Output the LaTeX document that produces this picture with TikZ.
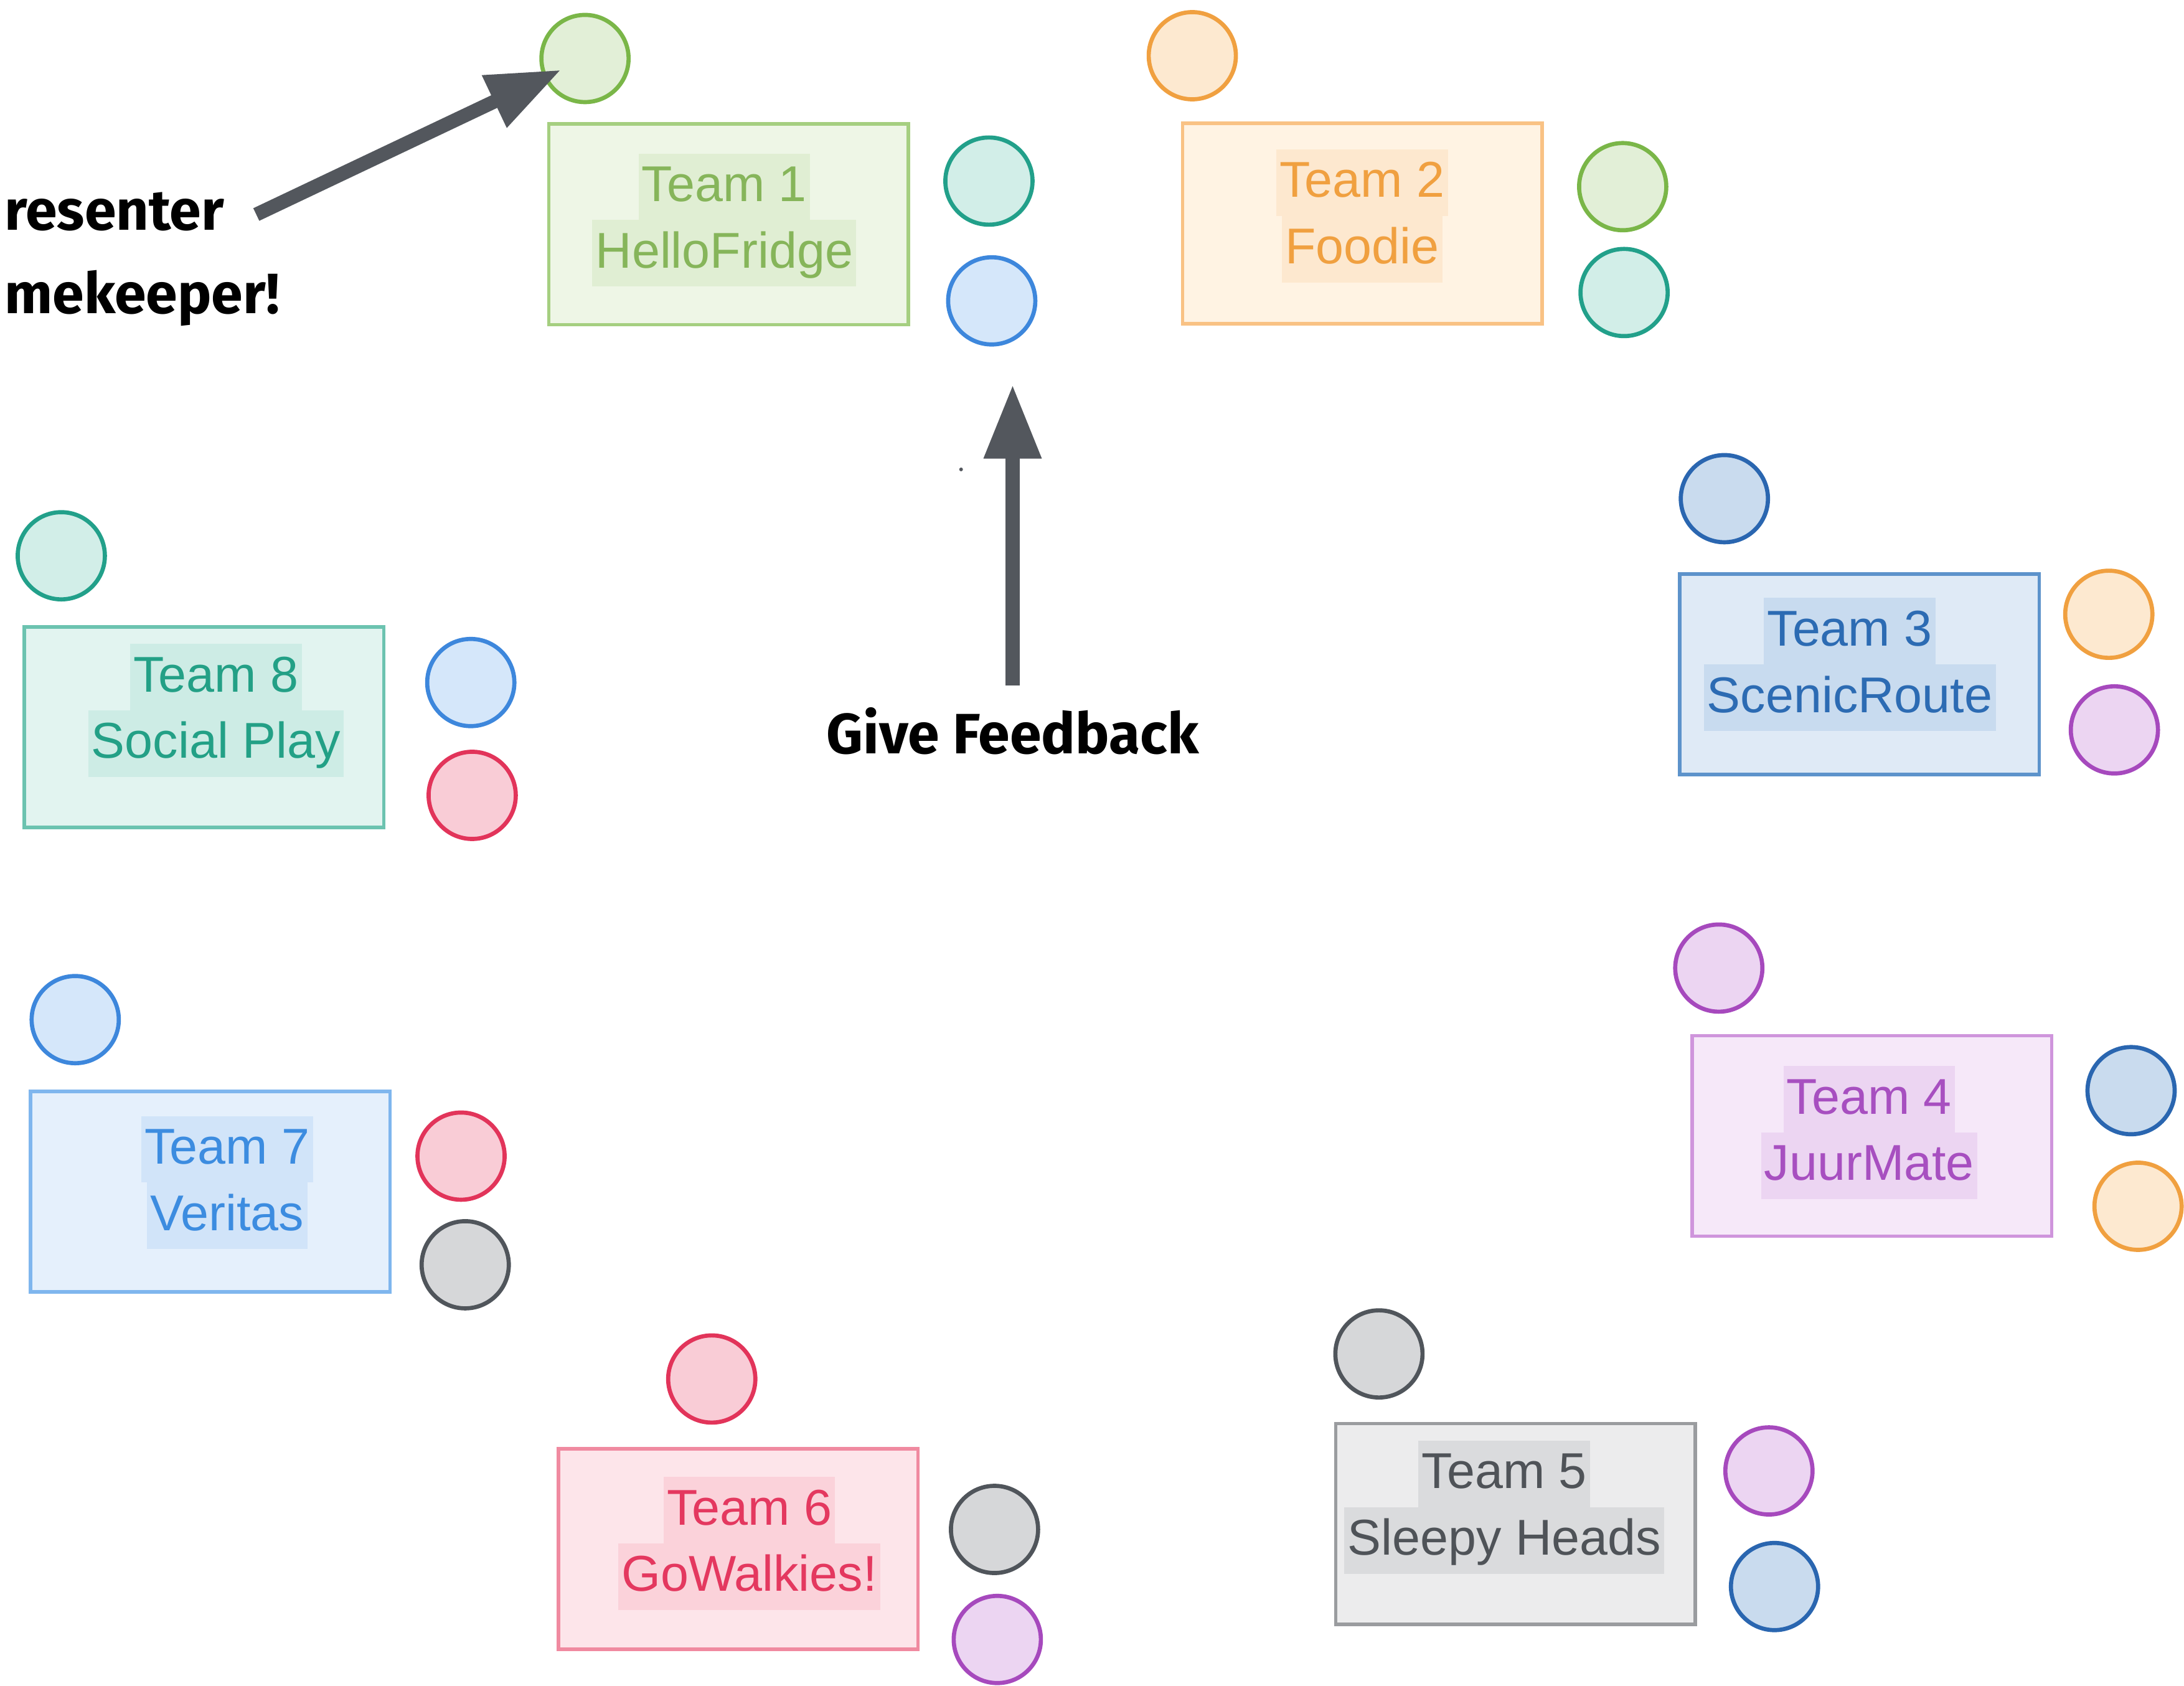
\documentclass[tikz,border=0pt]{standalone}
\usepackage{fontspec}
\setmainfont{Liberation Sans}
\newfontfamily\fbfont{Fira Sans}
\usetikzlibrary{arrows.meta}
% team colours: L = box line, F = box fill, T = text, H = highlight, P = person stroke, Q = person fill
\definecolor{grnL}{HTML}{A5CF80}\definecolor{grnF}{HTML}{EEF6E6}\definecolor{grnT}{HTML}{86B55A}\definecolor{grnH}{HTML}{E0EED3}\definecolor{grnP}{HTML}{7AB648}\definecolor{grnQ}{HTML}{E2EFD7}
\definecolor{orgL}{HTML}{F9C284}\definecolor{orgF}{HTML}{FFF3E3}\definecolor{orgT}{HTML}{F0A040}\definecolor{orgH}{HTML}{FDE8CF}\definecolor{orgP}{HTML}{F0A040}\definecolor{orgQ}{HTML}{FDE9D0}
\definecolor{dbuL}{HTML}{5D93CB}\definecolor{dbuF}{HTML}{DFEAF6}\definecolor{dbuT}{HTML}{2C6BB3}\definecolor{dbuH}{HTML}{C8DBEF}\definecolor{dbuP}{HTML}{2A66B0}\definecolor{dbuQ}{HTML}{C9DBEE}
\definecolor{purL}{HTML}{CF95DC}\definecolor{purF}{HTML}{F6E8F9}\definecolor{purT}{HTML}{A74FC0}\definecolor{purH}{HTML}{ECD5F2}\definecolor{purP}{HTML}{A649BD}\definecolor{purQ}{HTML}{ECD5F2}
\definecolor{gryL}{HTML}{9A9C9F}\definecolor{gryF}{HTML}{ECECED}\definecolor{gryT}{HTML}{4F5358}\definecolor{gryH}{HTML}{DADBDD}\definecolor{gryP}{HTML}{50555B}\definecolor{gryQ}{HTML}{D6D7D9}
\definecolor{redL}{HTML}{F08AA0}\definecolor{redF}{HTML}{FDE5EA}\definecolor{redT}{HTML}{E4385F}\definecolor{redH}{HTML}{FBD2DA}\definecolor{redP}{HTML}{E2345A}\definecolor{redQ}{HTML}{F9CCD6}
\definecolor{lbuL}{HTML}{7FB6EE}\definecolor{lbuF}{HTML}{E5F0FC}\definecolor{lbuT}{HTML}{3C8CE0}\definecolor{lbuH}{HTML}{D1E4F9}\definecolor{lbuP}{HTML}{3D87DC}\definecolor{lbuQ}{HTML}{D5E7FA}
\definecolor{tealL}{HTML}{6CC3B0}\definecolor{tealF}{HTML}{E2F4F0}\definecolor{tealT}{HTML}{23A086}\definecolor{tealH}{HTML}{CDECE5}\definecolor{tealP}{HTML}{22A08A}\definecolor{tealQ}{HTML}{D2EEE8}
\definecolor{arrowgray}{HTML}{53575D}
\newcommand\hlline[2]{{\setlength\fboxsep{0pt}\colorbox{#1H}{\rule[-8.5pt]{0pt}{30.4pt}\hspace{1.5pt}#2\hspace{1.5pt}}}}
\begin{document}
\begin{tikzpicture}[x=0.022372cm,y=-0.022372cm,
  teambox/.style={draw=#1L, fill=#1F, line width=1.6pt, rectangle, inner sep=0pt,
    minimum width=5.772cm, minimum height=3.222cm},
  teamtext/.style={text=#1T, font=\fontsize{23}{30.4}\selectfont, align=center, inner sep=0pt},
  person/.style={circle, draw=#1P, fill=#1Q, line width=1.9pt, minimum size=1.4cm, inner sep=0pt},
  callout/.style={font=\fbfont\bfseries\fontsize{26}{30}\selectfont, text=black, inner sep=0pt},
  bigarrow/.style={draw=arrowgray, line width=0.224cm,
    -{Triangle[width=0.87cm,length=1.19cm]}, arrowgray}
]
\useasboundingbox (0,0) rectangle (1568,1210);

% Team 1
\node[teambox=grn] (t1) at (523,161) {};
\node[teamtext=grn] (t1txt) at (520,158) {\hlline{grn}{Team 1}\\\hlline{grn}{HelloFridge}};
\node[person=grn] (p1a) at (420,42) {};
\node[person=teal] (p1b) at (710,130) {};
\node[person=lbu] (p1c) at (712,216) {};

% Team 2
\node[teambox=org] (t2) at (978,160.5) {};
\node[teamtext=org] (t2txt) at (978,155) {\hlline{org}{Team 2}\\\hlline{org}{Foodie}};
\node[person=org] (p2a) at (856,40) {};
\node[person=grn] (p2b) at (1165,134) {};
\node[person=teal] (p2c) at (1166,210) {};

% Team 3
\node[teambox=dbu] (t3) at (1335,484) {};
\node[teamtext=dbu] (t3txt) at (1328,477) {\hlline{dbu}{Team 3}\\\hlline{dbu}{ScenicRoute}};
\node[person=dbu] (p3a) at (1238,358) {};
\node[person=org] (p3b) at (1514,441) {};
\node[person=pur] (p3c) at (1518,524) {};

% Team 4
\node[teambox=pur] (t4) at (1344,815.5) {};
\node[teamtext=pur] (t4txt) at (1342,813) {\hlline{pur}{Team 4}\\\hlline{pur}{JuurMate}};
\node[person=pur] (p4a) at (1234,695) {};
\node[person=dbu] (p4b) at (1530,783) {};
\node[person=org] (p4c) at (1535,866) {};

% Team 5
\node[teambox=gry] (t5) at (1088,1094) {};
\node[teamtext=gry] (t5txt) at (1080,1082) {\hlline{gry}{Team 5}\\\hlline{gry}{Sleepy Heads}};
\node[person=gry] (p5a) at (990,972) {};
\node[person=pur] (p5b) at (1270,1056) {};
\node[person=dbu] (p5c) at (1274,1139) {};

% Team 6
\node[teambox=red] (t6) at (530,1112) {};
\node[teamtext=red] (t6txt) at (538,1108) {\hlline{red}{Team 6}\\\hlline{red}{GoWalkies!}};
\node[person=red] (p6a) at (511,990) {};
\node[person=gry] (p6b) at (714,1098) {};
\node[person=pur] (p6c) at (716,1177) {};

% Team 7
\node[teambox=lbu] (t7) at (151,855.5) {};
\node[teamtext=lbu] (t7txt) at (163,849) {\hlline{lbu}{Team 7}\\\hlline{lbu}{Veritas}};
\node[person=lbu] (p7a) at (54,732) {};
\node[person=red] (p7b) at (331,830) {};
\node[person=gry] (p7c) at (334,908) {};

% Team 8
\node[teambox=teal] (t8) at (146.5,522) {};
\node[teamtext=teal] (t8txt) at (155,510) {\hlline{teal}{Team 8}\\\hlline{teal}{Social Play}};
\node[person=teal] (p8a) at (44,399) {};
\node[person=lbu] (p8b) at (338,490) {};
\node[person=red] (p8c) at (339,571) {};

% callouts
\node[callout, anchor=base west] (pres) at (3,165) {resenter};
\node[callout, anchor=base west] (tkeep) at (3,225) {mekeeper!};
\node[callout, anchor=base] (gf) at (727,541) {Give Feedback};

\coordinate (prtail) at (184,154);
\draw[bigarrow, shorten >=-0.31cm] (prtail) -- (p1a);

\coordinate (gftail) at (727,492);
\coordinate (gftip) at (727,276);
\draw[bigarrow] (gftail) -- (gftip);

\fill[arrowgray] (690,337) circle (0.03cm);
\end{tikzpicture}
\end{document}
